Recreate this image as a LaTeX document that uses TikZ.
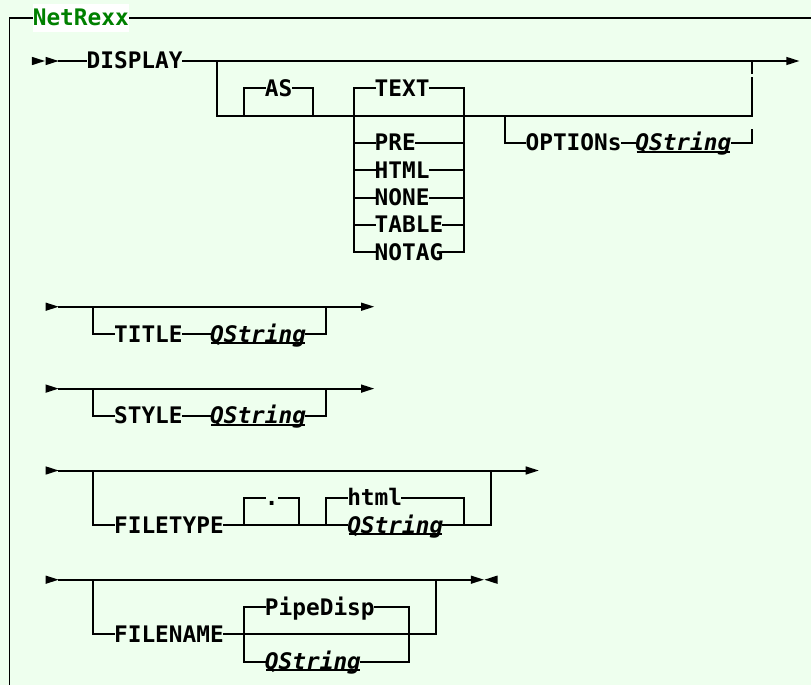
\documentclass[tikz,border=0pt]{standalone}
\usepackage{fontspec}
\newfontfamily\rrmono{DejaVu Sans Mono}
\definecolor{bg}{RGB}{238,255,238}
\definecolor{nrgreen}{RGB}{0,128,0}
\tikzset{
  rr/.style={line width=2pt, line cap=rect},
  kw/.style={font=\rrmono\bfseries\fontsize{22.78pt}{27.3pt}\selectfont, inner sep=0pt, text height=16pt, text depth=0pt, anchor=west},
  var/.style={kw, font=\rrmono\bfseries\itshape\fontsize{22.78pt}{27.3pt}\selectfont},
  ul/.style={line width=2pt},
  rtri/.pic={\fill (0.3pt,4.2pt) -- (13.3pt,0pt) -- (0.3pt,-4.2pt) -- cycle;},
  ltri/.pic={\fill (13.3pt,4.2pt) -- (0.3pt,0pt) -- (13.3pt,-4.2pt) -- cycle;},
}
\begin{document}
\begin{tikzpicture}
\fill[bg] (0,0) rectangle (811pt,-685pt);
\useasboundingbox (0,0) rectangle (811pt,-685pt);
% frame
\coordinate (fbl) at (9.3pt,-685pt);
\coordinate (ftl) at (9.3pt,-18.3pt);
\coordinate (ftr) at (811pt,-18.3pt);
\draw[line width=1.6pt] (fbl) -- (ftl) -- (ftr);
\node[kw, fill=white, text=nrgreen, inner ysep=5.85pt] (label) at (32.6pt,-18pt) {NetRexx};

\begin{scope}[x=13.717pt, y=-27.3pt, shift={(4.14pt,-61pt)}]
% ---------- main statement ----------
\pic at (2,0) {rtri};
\pic at (3,0) {rtri};
\coordinate (s0) at (4,0);
\node[kw] (display) at (6,0) {DISPLAY};
\coordinate (b0l) at (15.5,0);
\coordinate (b0r) at (54.5,0);
\coordinate (e0) at (57,0);
\draw[rr] (s0) -- (display.west);
\draw[rr] (display.east) -- (e0);
\pic at (e0) {rtri};
\coordinate (b2l) at (15.5,2);
\coordinate (b2r) at (54.5,2);
\draw[rr] (b0l) -- (b2l) -- (b2r) -- (54.5,0.63);
\draw[rr] (54.5,0.45) -- (b0r);
% AS
\node[kw] (as) at (19,1) {AS};
\draw[rr] (17.5,2) -- (17.5,1) -- (as.west);
\draw[rr] (as.east) -- (22.5,1) -- (22.5,2);
% TEXT choices
\foreach \t/\k/\n in {TEXT/1/text, PRE/3/pre, HTML/4/htmlc, NONE/5/none, TABLE/6/table, NOTAG/7/notag} {
  \node[kw] (\n) at (27,\k) {\t};
  \draw[rr] (25.5,\k) -- (\n.west);
  \draw[rr] (\n.east) -- (33.5,\k);
}
\draw[rr] (25.5,1) -- (25.5,7);
\draw[rr] (33.5,1) -- (33.5,7);
% OPTIONs
\node[kw] (options) at (38,3) {OPTIONs};
\node[var] (qs1) at (46,3) {QString};
\draw[rr] (36.5,2) -- (36.5,3) -- (options.west);
\draw[rr] (options.east) -- (qs1.west);
\draw[rr] (qs1.east) -- (54.5,3) -- (54.5,2.52);

% ---------- TITLE ----------
\pic at (3,9) {rtri};
\draw[rr] (4,9) -- (26,9);
\pic at (26,9) {rtri};
\node[kw] (titlekw) at (8,10) {TITLE};
\node[var] (qs2) at (15,10) {QString};
\draw[rr] (6.5,9) -- (6.5,10) -- (titlekw.west);
\draw[rr] (titlekw.east) -- (qs2.west);
\draw[rr] (qs2.east) -- (23.5,10) -- (23.5,9);

% ---------- STYLE ----------
\pic at (3,12) {rtri};
\draw[rr] (4,12) -- (26,12);
\pic at (26,12) {rtri};
\node[kw] (stylekw) at (8,13) {STYLE};
\node[var] (qs3) at (15,13) {QString};
\draw[rr] (6.5,12) -- (6.5,13) -- (stylekw.west);
\draw[rr] (stylekw.east) -- (qs3.west);
\draw[rr] (qs3.east) -- (23.5,13) -- (23.5,12);

% ---------- FILETYPE ----------
\pic at (3,15) {rtri};
\draw[rr] (4,15) -- (38,15);
\pic at (38,15) {rtri};
\node[kw] (filetype) at (8,17) {FILETYPE};
\node[kw] (dot) at (19,16) {.};
\node[kw] (htmlkw) at (25,16) {html};
\node[var] (qs4) at (25,17) {QString};
\draw[rr] (6.5,15) -- (6.5,17) -- (filetype.west);
\draw[rr] (filetype.east) -- (qs4.west);
\draw[rr] (qs4.east) -- (35.5,17) -- (35.5,15);
\draw[rr] (17.5,17) -- (17.5,16) -- (dot.west);
\draw[rr] (dot.east) -- (21.5,16) -- (21.5,17);
\draw[rr] (23.5,17) -- (23.5,16) -- (htmlkw.west);
\draw[rr] (htmlkw.east) -- (33.5,16) -- (33.5,17);

% ---------- FILENAME ----------
\pic at (3,19) {rtri};
\draw[rr] (4,19) -- (34,19);
\pic at (34,19) {rtri};
\pic at (35,19) {ltri};
\node[kw] (filename) at (8,21) {FILENAME};
\node[kw] (pipedisp) at (19,20) {PipeDisp};
\node[var] (qs5) at (19,22) {QString};
\draw[rr] (6.5,19) -- (6.5,21) -- (filename.west);
\draw[rr] (filename.east) -- (31.5,21) -- (31.5,19);
\draw[rr] (pipedisp.west) -- (17.5,20) -- (17.5,22) -- (qs5.west);
\draw[rr] (pipedisp.east) -- (29.5,20) -- (29.5,22) -- (qs5.east);

% underlines of QString
\foreach \q in {qs1,qs2,qs3,qs4,qs5} {
  \draw[ul] ([xshift=1.5pt,yshift=-8.6pt]\q.west) -- ([xshift=-1.5pt,yshift=-8.6pt]\q.east);
}
\end{scope}
\end{tikzpicture}
\end{document}
